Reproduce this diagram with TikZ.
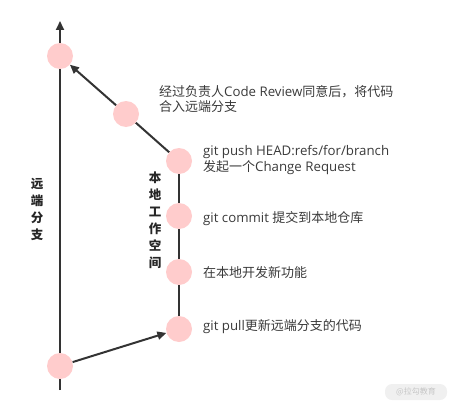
\documentclass[tikz,border=0pt]{standalone}
\usepackage{fontspec}
\setmainfont{Open Sans}[Scale=1.02]
\newfontfamily\cjk{Noto Sans CJK SC}
\usetikzlibrary{arrows.meta}
\definecolor{nodepink}{HTML}{FFCCCC}
\definecolor{linegray}{HTML}{333333}
\definecolor{txtgray}{HTML}{3A3A3A}
\begin{document}
\begin{tikzpicture}[x=1pt,y=-1pt,
  commit/.style={circle,fill=nodepink,draw=none,minimum size=26pt,inner sep=0pt},
  conn/.style={draw=linegray,line width=2pt},
  tip/.style={-{Triangle[length=9pt,width=8pt]}},
  lbl/.style={anchor=west,text=txtgray,font=\fontsize{13}{15.5}\selectfont,align=left,inner sep=0pt},
  vlbl/.style={text=black!85,font=\fontsize{12.5}{17}\selectfont\cjk\bfseries,align=center,inner sep=0pt}]
\useasboundingbox (0,0) rectangle (454,409);
\coordinate (top) at (60,21);
\coordinate (bot) at (60,390);
\node[commit] (r1) at (60,366) {};
\node[commit] (r2) at (60,56) {};
\node[commit] (b) at (126,114) {};
\node[commit] (c) at (179,161) {};
\node[commit] (d) at (179,216) {};
\node[commit] (e) at (179,272) {};
\node[commit] (f) at (179,329) {};
% remote line
\draw[conn] (bot) -- (r1);
\draw[conn] (r1) -- (r2);
\draw[conn,tip] (r2) -- (top);
% local line
\draw[conn] (f) -- (e);
\draw[conn] (e) -- (d);
\draw[conn] (d) -- (c);
\draw[conn] (c) -- (b);
\draw[conn,tip] (b) -- (r2);
\draw[conn,tip] (r1) -- (f);
% labels
\node[lbl] (t1) at (159,99) {{\cjk 经过负责人}Code Review{\cjk 同意后，将代码}\\{\cjk 合入远端分支}};
\node[lbl] (t2) at (203,160) {git push HEAD:refs/for/branch\\{\cjk 发起一个}Change Request};
\node[lbl] (t3) at (203,219) {git commit {\cjk 提交到本地仓库}};
\node[lbl] (t4) at (203,273) {{\cjk 在本地开发新功能}};
\node[lbl] (t5) at (203,327) {git pull{\cjk 更新远端分支的代码}};
\node[vlbl] (v1) at (37,209) {远\\端\\分\\支};
\node[vlbl] (v2) at (155,220) {本\\地\\工\\作\\空\\间};
% watermark
\node[fill=gray!12,rounded corners=7pt,text=gray!45,font=\fontsize{8}{9}\selectfont\cjk,minimum width=62pt,minimum height=16pt,inner sep=0pt] (wm) at (416,392) {@拉勾教育};
\end{tikzpicture}
\end{document}
